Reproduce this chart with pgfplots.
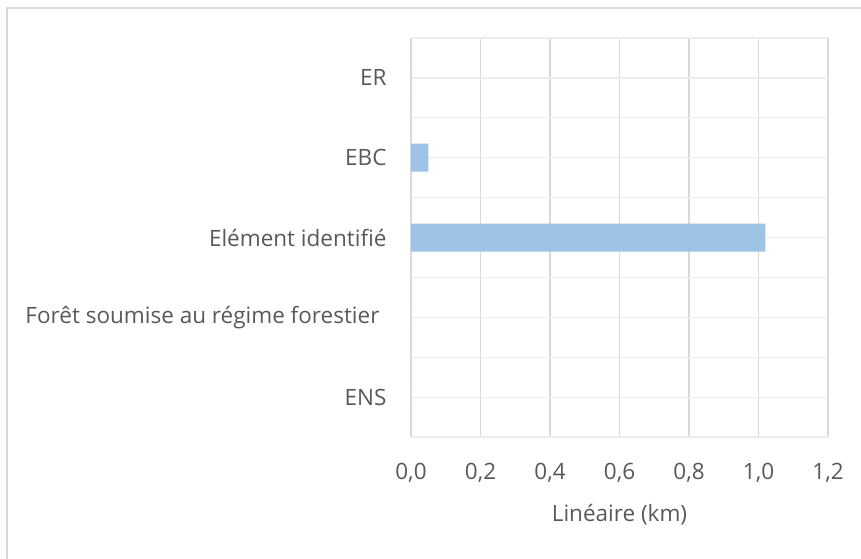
\documentclass[border=0pt]{standalone}
\usepackage{fontspec}
\setmainfont{Open Sans}
\usepackage{pgfplots}
\pgfplotsset{compat=1.18}
\definecolor{barblue}{HTML}{9DC3E6}
\definecolor{txtgray}{HTML}{595959}
\definecolor{gridv}{HTML}{D9D9D9}
\definecolor{gridh}{HTML}{EDEDED}

\begin{document}
\begin{tikzpicture}[x=1pt,y=1pt]
\useasboundingbox (0,0) rectangle (861,558);
% chart frame (right and bottom edges fall outside the picture)
\draw[gridv, line width=1.5pt] (7,-5) -- (7,550) -- (866,550);
\begin{axis}[
  at={(411pt,121pt)}, anchor=south west,
  scale only axis, width=417pt, height=399pt,
  xbar, bar width=28pt,
  xmin=0, xmax=1.2, ymin=-0.5, ymax=4.5,
  xtick={0,0.2,0.4,0.6,0.8,1.0,1.2},
  ytick={0,1,2,3,4},
  minor ytick={-0.5,0.5,1.5,2.5,3.5,4.5},
  yticklabels={ENS, Forêt soumise au régime forestier\kern7pt, Elément identifié, EBC, ER},
  xmajorgrids, ymajorgrids, yminorgrids,
  major x grid style={gridv, line width=1.2pt},
  major y grid style={gridh, line width=1.2pt},
  minor y grid style={gridh, line width=1.2pt},
  axis line style={draw=none},
  major tick length=0pt, minor tick length=0pt,
  tick label style={font=\fontsize{22.5}{25}\selectfont, text=txtgray},
  xticklabel style={yshift=-23pt},
  yticklabel style={xshift=-21pt},
  /pgf/number format/.cd, fixed, fixed zerofill, precision=1, use comma, assume math mode=true,
  /pgfplots/.cd,
  xlabel={Linéaire (km)},
  x label style={at={(axis description cs:0.5,-0.195)}, anchor=center,
    font=\fontsize{22.5}{25}\selectfont, text=txtgray},
]
\addplot[fill=barblue, draw=none] coordinates {(0,0) (0,1) (1.02,2) (0.05,3) (0,4)};
\end{axis}
\end{tikzpicture}
\end{document}
